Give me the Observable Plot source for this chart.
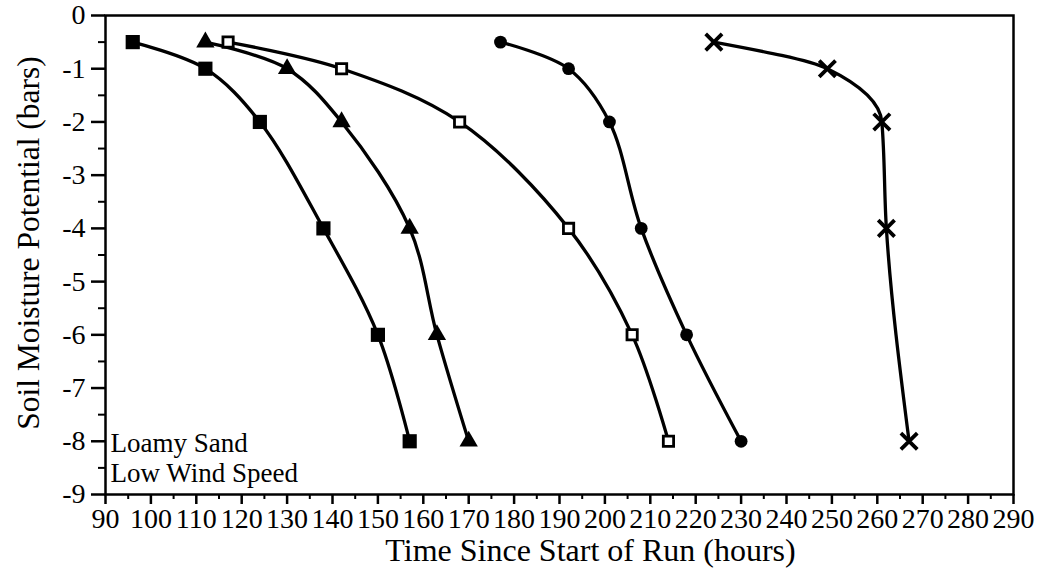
<!DOCTYPE html>
<html><head><meta charset="utf-8">
<script src="https://cdn.jsdelivr.net/npm/d3@7"></script>
<script src="https://cdn.jsdelivr.net/npm/@observablehq/plot@0.6"></script>
<style>
html,body{margin:0;padding:0;background:#fff}
svg{display:block}
</style>
</head><body><div id="chart"></div>
<script>
// Soil moisture potential (bars) at each reading
const potential = [-0.5, -1, -2, -4, -6, -8];
const potentialCross = [-0.5, -1, -2, -4, -8];
// Time since start of run (hours) per series
const hoursFilledSquare = [96, 112, 124, 138, 150, 157];
const hoursTriangle = [112, 130, 142, 157, 163, 170];
const hoursOpenSquare = [117, 142, 168, 192, 206, 214];
const hoursCircle = [177, 192, 201, 208, 218, 230];
const hoursCross = [224, 249, 261, 262, 267];
// Axis ticks
const xTicks = [90, 100, 110, 120, 130, 140, 150, 160, 170, 180, 190, 200, 210, 220, 230, 240, 250, 260, 270, 280, 290];
const yTicks = [0, -1, -2, -3, -4, -5, -6, -7, -8, -9];
const xMinor = [95, 105, 115, 125, 135, 145, 155, 165, 175, 185, 195, 205, 215, 225, 235, 245, 255, 265, 275, 285];
const yMinor = [-0.5, -1.5, -2.5, -3.5, -4.5, -5.5, -6.5, -7.5, -8.5];
const xTitle = "Time Since Start of Run (hours)";
const yTitle = "Soil Moisture Potential (bars)";
const note = "Loamy Sand\nLow Wind Speed";

const FONT = "Liberation Serif, Tinos, DejaVu Serif, serif";
const zip = (hs, ps) => hs.map((h, i) => ({h, p: ps[i]}));
const series = [
  {data: zip(hoursFilledSquare, potential), symbol: "square", r: 8, fill: "black", stroke: "none", sw: 0, curve: "catmull-rom"},
  {data: zip(hoursTriangle, potential), symbol: "triangle", r: 6.8, fill: "black", stroke: "none", sw: 0, curve: "catmull-rom"},
  {data: zip(hoursOpenSquare, potential), symbol: "square", r: 5.8, fill: "white", stroke: "black", sw: 2.8, curve: "catmull-rom"},
  {data: zip(hoursCircle, potential), symbol: "circle", r: 6.4, fill: "black", stroke: "none", sw: 0, curve: "catmull-rom"},
  {data: zip(hoursCross, potentialCross), symbol: "times", r: 7.5, fill: "none", stroke: "black", sw: 3.8, curve: "monotone-y"}
];

const marks = [
  Plot.axisX(xMinor, {tickSize: 5, text: null, label: null, strokeWidth: 2}),
  Plot.axisY(yMinor, {tickSize: 7, text: null, label: null, strokeWidth: 2}),
  Plot.axisX(xTicks, {tickSize: 10, tickPadding: 4, strokeWidth: 2.5, label: null, tickFormat: d => String(d), fontSize: 28, fontFamily: FONT}),
  Plot.axisY(yTicks, {tickSize: 14, tickPadding: 6, strokeWidth: 2.5, label: null, tickFormat: d => String(d), fontSize: 28, fontFamily: FONT}),
  Plot.frame({strokeWidth: 2.5})
];
for (const s of series) {
  marks.push(Plot.line(s.data, {x: "h", y: "p", curve: s.curve, stroke: "black", strokeWidth: 3.3}));
}
for (const s of series) {
  marks.push(Plot.dot(s.data, {x: "h", y: "p", symbol: () => s.symbol, r: s.r, fill: s.fill, stroke: s.stroke, strokeWidth: s.sw}));
}
marks.push(Plot.text([note], {text: d => d, frameAnchor: "bottom-left", textAnchor: "start", lineAnchor: "bottom", lineHeight: 1.1, dx: 5, dy: -13, fontSize: 27, fontFamily: FONT, fill: "black"}));
marks.push(Plot.text([xTitle], {text: d => d, frameAnchor: "bottom", textAnchor: "middle", dx: 31, dy: 66, fontSize: 32, fontFamily: FONT, fill: "black"}));
marks.push(Plot.text([yTitle], {text: d => d, frameAnchor: "left", textAnchor: "middle", rotate: -90, dx: -77, dy: -12, fontSize: 31.5, fontFamily: FONT, fill: "black"}));

const chart = Plot.plot({
  width: 1057,
  height: 588,
  marginLeft: 105,
  marginRight: 44,
  marginTop: 15,
  marginBottom: 94,
  x: {domain: [90, 290]},
  y: {domain: [-9, 0]},
  symbol: {type: "identity"},
  style: {fontFamily: FONT, fontSize: "28px", color: "black", background: "white", overflow: "visible"},
  marks
});
chart.querySelectorAll("text").forEach(t => t.setAttribute("font-family", FONT));
chart.style.fontFamily = FONT;
document.getElementById("chart").appendChild(chart);
</script>
</body></html>
